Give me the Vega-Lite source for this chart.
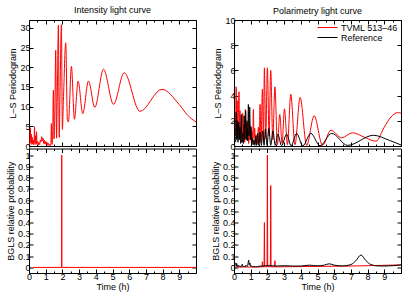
{
"$schema":"https://vega.github.io/schema/vega-lite/v6.json",
"padding":{"left":5,"top":5,"right":5,"bottom":1},
"datasets":{
"il":[{"t":0.05,"v":0.3},{"t":0.08,"v":4.6},{"t":0.11,"v":0.8},{"t":0.14,"v":3.0},{"t":0.17,"v":0.4},{"t":0.2,"v":2.2},{"t":0.23,"v":0.5},{"t":0.27,"v":1.5},{"t":0.3,"v":0.3},{"t":0.33,"v":4.9},{"t":0.36,"v":0.8},{"t":0.39,"v":2.6},{"t":0.42,"v":0.4},{"t":0.45,"v":3.6},{"t":0.48,"v":0.6},{"t":0.52,"v":1.2},{"t":0.56,"v":0.2},{"t":0.6,"v":0.9},{"t":0.64,"v":0.4},{"t":0.68,"v":1.5},{"t":0.72,"v":1.0},{"t":0.76,"v":2.4},{"t":0.8,"v":1.3},{"t":0.84,"v":2.0},{"t":0.88,"v":0.6},{"t":0.92,"v":1.5},{"t":0.96,"v":0.5},{"t":1.0,"v":1.2},{"t":1.04,"v":0.3},{"t":1.08,"v":0.9},{"t":1.12,"v":0.2},{"t":1.16,"v":0.7},{"t":1.2,"v":0.1},{"t":1.24,"v":0.4},{"t":1.28,"v":0.1},{"t":1.31,"v":0.6},{"t":1.34,"v":5.7},{"t":1.38,"v":0.4},{"t":1.42,"v":3.5},{"t":1.46,"v":14.2},{"t":1.5,"v":1.8},{"t":1.54,"v":6.5},{"t":1.6,"v":24.3},{"t":1.65,"v":2.0},{"t":1.69,"v":11.0},{"t":1.76,"v":30.7},{"t":1.81,"v":2.2},{"t":1.86,"v":14.0},{"t":1.94,"v":30.8},{"t":2.0,"v":4.2},{"t":2.06,"v":11.5},{"t":2.2,"v":26.2},{"t":2.3,"v":6.5},{"t":2.36,"v":6.1},{"t":2.54,"v":20.2},{"t":2.72,"v":6.8},{"t":2.94,"v":16.5},{"t":3.22,"v":8.2},{"t":3.56,"v":16.5},{"t":3.94,"v":9.8},{"t":4.46,"v":19.5},{"t":5.06,"v":10.6},{"t":5.7,"v":18.6},{"t":6.64,"v":8.8},{"t":7.96,"v":14.4},{"t":9.0,"v":10.5},{"t":9.5,"v":7.8},{"t":10,"v":6.1}],
"pl":[
{"s":"TVML 513–46","t":0.1,"v":0.8},{"s":"TVML 513–46","t":0.13,"v":4.7},{"s":"TVML 513–46","t":0.16,"v":1.2},{"s":"TVML 513–46","t":0.19,"v":3.6},{"s":"TVML 513–46","t":0.22,"v":0.6},{"s":"TVML 513–46","t":0.26,"v":2.4},{"s":"TVML 513–46","t":0.3,"v":4.3},{"s":"TVML 513–46","t":0.33,"v":0.8},{"s":"TVML 513–46","t":0.36,"v":2.8},{"s":"TVML 513–46","t":0.4,"v":0.4},{"s":"TVML 513–46","t":0.44,"v":2.0},{"s":"TVML 513–46","t":0.48,"v":0.3},{"s":"TVML 513–46","t":0.52,"v":2.6},{"s":"TVML 513–46","t":0.56,"v":0.7},{"s":"TVML 513–46","t":0.6,"v":1.6},{"s":"TVML 513–46","t":0.64,"v":0.3},{"s":"TVML 513–46","t":0.68,"v":2.9},{"s":"TVML 513–46","t":0.72,"v":0.6},{"s":"TVML 513–46","t":0.76,"v":1.8},{"s":"TVML 513–46","t":0.8,"v":0.4},{"s":"TVML 513–46","t":0.84,"v":1.3},{"s":"TVML 513–46","t":0.88,"v":0.2},{"s":"TVML 513–46","t":0.92,"v":2.0},{"s":"TVML 513–46","t":0.96,"v":0.5},{"s":"TVML 513–46","t":1.0,"v":1.6},{"s":"TVML 513–46","t":1.04,"v":0.3},{"s":"TVML 513–46","t":1.08,"v":1.2},{"s":"TVML 513–46","t":1.12,"v":0.3},{"s":"TVML 513–46","t":1.16,"v":2.9},{"s":"TVML 513–46","t":1.2,"v":0.6},{"s":"TVML 513–46","t":1.24,"v":1.4},{"s":"TVML 513–46","t":1.28,"v":0.2},{"s":"TVML 513–46","t":1.32,"v":0.9},{"s":"TVML 513–46","t":1.36,"v":0.2},{"s":"TVML 513–46","t":1.4,"v":0.2},{"s":"TVML 513–46","t":1.46,"v":1.5},{"s":"TVML 513–46","t":1.51,"v":0.2},{"s":"TVML 513–46","t":1.56,"v":3.3},{"s":"TVML 513–46","t":1.62,"v":0.3},{"s":"TVML 513–46","t":1.7,"v":4.5},{"s":"TVML 513–46","t":1.76,"v":0.4},{"s":"TVML 513–46","t":1.82,"v":6.2},{"s":"TVML 513–46","t":1.9,"v":0.6},{"s":"TVML 513–46","t":2.0,"v":6.2},{"s":"TVML 513–46","t":2.1,"v":0.8},{"s":"TVML 513–46","t":2.2,"v":6.0},{"s":"TVML 513–46","t":2.32,"v":0.5},{"s":"TVML 513–46","t":2.45,"v":4.7},{"s":"TVML 513–46","t":2.6,"v":0.1},{"s":"TVML 513–46","t":2.74,"v":2.5},{"s":"TVML 513–46","t":2.88,"v":0.2},{"s":"TVML 513–46","t":3.02,"v":2.95},{"s":"TVML 513–46","t":3.2,"v":0.1},{"s":"TVML 513–46","t":3.4,"v":4.1},{"s":"TVML 513–46","t":3.65,"v":0.1},{"s":"TVML 513–46","t":3.96,"v":3.85},{"s":"TVML 513–46","t":4.35,"v":0.05},{"s":"TVML 513–46","t":4.8,"v":2.4},{"s":"TVML 513–46","t":5.3,"v":0.05},{"s":"TVML 513–46","t":5.8,"v":1.25},{"s":"TVML 513–46","t":6.45,"v":0.65},{"s":"TVML 513–46","t":7.1,"v":1.05},{"s":"TVML 513–46","t":7.8,"v":0.7},{"s":"TVML 513–46","t":8.5,"v":0.38},{"s":"TVML 513–46","t":9.0,"v":1.5},{"s":"TVML 513–46","t":9.4,"v":2.3},{"s":"TVML 513–46","t":9.8,"v":2.65},{"s":"TVML 513–46","t":10,"v":2.6},
{"s":"Reference","t":0.1,"v":0.3},{"s":"Reference","t":0.13,"v":2.7},{"s":"Reference","t":0.16,"v":0.5},{"s":"Reference","t":0.2,"v":2.0},{"s":"Reference","t":0.24,"v":0.3},{"s":"Reference","t":0.28,"v":1.9},{"s":"Reference","t":0.32,"v":0.5},{"s":"Reference","t":0.36,"v":1.5},{"s":"Reference","t":0.4,"v":0.2},{"s":"Reference","t":0.44,"v":2.5},{"s":"Reference","t":0.48,"v":0.3},{"s":"Reference","t":0.52,"v":1.0},{"s":"Reference","t":0.56,"v":0.2},{"s":"Reference","t":0.61,"v":2.4},{"s":"Reference","t":0.65,"v":0.5},{"s":"Reference","t":0.7,"v":2.8},{"s":"Reference","t":0.74,"v":0.5},{"s":"Reference","t":0.78,"v":2.0},{"s":"Reference","t":0.82,"v":0.4},{"s":"Reference","t":0.86,"v":3.3},{"s":"Reference","t":0.9,"v":0.8},{"s":"Reference","t":0.94,"v":3.1},{"s":"Reference","t":0.98,"v":0.5},{"s":"Reference","t":1.02,"v":1.5},{"s":"Reference","t":1.06,"v":0.1},{"s":"Reference","t":1.1,"v":0.6},{"s":"Reference","t":1.15,"v":0.1},{"s":"Reference","t":1.2,"v":0.5},{"s":"Reference","t":1.25,"v":0.05},{"s":"Reference","t":1.31,"v":0.8},{"s":"Reference","t":1.36,"v":0.05},{"s":"Reference","t":1.42,"v":1.0},{"s":"Reference","t":1.49,"v":0.05},{"s":"Reference","t":1.56,"v":1.1},{"s":"Reference","t":1.64,"v":0.05},{"s":"Reference","t":1.72,"v":1.2},{"s":"Reference","t":1.8,"v":0.05},{"s":"Reference","t":1.88,"v":1.35},{"s":"Reference","t":1.98,"v":0.05},{"s":"Reference","t":2.08,"v":1.4},{"s":"Reference","t":2.2,"v":0.05},{"s":"Reference","t":2.33,"v":1.2},{"s":"Reference","t":2.47,"v":0.05},{"s":"Reference","t":2.62,"v":0.95},{"s":"Reference","t":2.85,"v":0.02},{"s":"Reference","t":3.15,"v":0.95},{"s":"Reference","t":3.42,"v":0.02},{"s":"Reference","t":3.75,"v":1.0},{"s":"Reference","t":4.12,"v":0.02},{"s":"Reference","t":4.6,"v":1.0},{"s":"Reference","t":5.15,"v":0.02},{"s":"Reference","t":5.85,"v":1.0},{"s":"Reference","t":6.8,"v":0.05},{"s":"Reference","t":8.35,"v":0.85},{"s":"Reference","t":9.3,"v":0.45},{"s":"Reference","t":10,"v":0.08}],
"ib":[{"t":0.24,"v":0},{"t":1.955,"v":0},{"t":1.96,"v":1.0},{"t":1.965,"v":0},{"t":10,"v":0}],
"pbr":[{"t":0.1,"v":0.003},{"t":1.0,"v":0.003},{"t":1.6,"v":0.004},{"t":1.68,"v":0.005},{"t":1.7,"v":0.05},{"t":1.72,"v":0.005},{"t":1.8,"v":0.005},{"t":1.82,"v":0.4},{"t":1.84,"v":0.005},{"t":1.98,"v":0.005},{"t":2.0,"v":1.0},{"t":2.02,"v":0.005},{"t":2.18,"v":0.005},{"t":2.2,"v":0.73},{"t":2.22,"v":0.005},{"t":2.43,"v":0.005},{"t":2.45,"v":0.06},{"t":2.47,"v":0.005},{"t":4,"v":0.007},{"t":7,"v":0.012},{"t":10,"v":0.022}],
"pbk":[{"t":0.1,"v":0.04},{"t":0.13,"v":0.01},{"t":0.16,"v":0.035},{"t":0.2,"v":0.008},{"t":0.25,"v":0.02},{"t":0.3,"v":0.005},{"t":0.35,"v":0.015},{"t":0.4,"v":0.004},{"t":0.45,"v":0.01},{"t":0.5,"v":0.03},{"t":0.54,"v":0.004},{"t":0.6,"v":0.012},{"t":0.66,"v":0.004},{"t":0.72,"v":0.02},{"t":0.78,"v":0.008},{"t":0.84,"v":0.035},{"t":0.88,"v":0.065},{"t":0.91,"v":0.02},{"t":0.95,"v":0.04},{"t":1.0,"v":0.008},{"t":1.05,"v":0.015},{"t":1.1,"v":0.004},{"t":1.2,"v":0.008},{"t":1.3,"v":0.005},{"t":1.5,"v":0.01},{"t":1.7,"v":0.012},{"t":1.9,"v":0.015},{"t":2.1,"v":0.015},{"t":2.5,"v":0.012},{"t":3.0,"v":0.015},{"t":3.5,"v":0.012},{"t":4.0,"v":0.012},{"t":4.5,"v":0.02},{"t":5.0,"v":0.014},{"t":5.4,"v":0.02},{"t":5.7,"v":0.032},{"t":6.0,"v":0.02},{"t":6.5,"v":0.013},{"t":7.0,"v":0.025},{"t":7.3,"v":0.06},{"t":7.6,"v":0.11},{"t":7.9,"v":0.06},{"t":8.2,"v":0.025},{"t":8.6,"v":0.013},{"t":9.0,"v":0.012},{"t":9.5,"v":0.015},{"t":10,"v":0.022}]
},
"columns":2,
"spacing":{"row":2.5,"column":38},
"bounds":"flush",
"resolve":{"legend":{"color":"independent"}},
"concat":[
{"width":167,"height":126,"title":{"text":"Intensity light curve","offset":5},"data":{"name":"il"},
 "resolve":{"axis":{"x":"independent","y":"independent"}},
 "layer":[
  {"mark":{"type":"line","color":"#ff0000","strokeWidth":1,"interpolate":"monotone","clip":true},
   "encoding":{"x":{"field":"t","type":"quantitative","scale":{"domain":[0,10],"nice":false,"zero":false},"axis":{"orient":"bottom","values":[0,1,2,3,4,5,6,7,8,9,10],"labels":false,"title":null}},
   "y":{"field":"v","type":"quantitative","scale":{"domain":[0,32],"nice":false,"zero":false},"axis":{"orient":"left","values":[0,5,10,15,20,25,30],"format":"~r","title":"L–S Periodogram"}}}},
  {"mark":{"type":"line","opacity":0},
   "encoding":{"x":{"field":"t","type":"quantitative","axis":{"orient":"top","values":[0,1,2,3,4,5,6,7,8,9,10],"labels":false,"title":null}},
   "y":{"field":"v","type":"quantitative","axis":{"orient":"right","values":[0,5,10,15,20,25,30],"labels":false,"title":null}}}},
  {"mark":{"type":"line","opacity":0},
   "encoding":{"x":{"field":"t","type":"quantitative","axis":{"orient":"bottom","values":[0.5,1.5,2.5,3.5,4.5,5.5,6.5,7.5,8.5,9.5],"labels":false,"tickSize":-2,"title":null}},
   "y":{"field":"v","type":"quantitative","axis":null}}},
  {"mark":{"type":"line","opacity":0},
   "encoding":{"x":{"field":"t","type":"quantitative","axis":{"orient":"top","values":[0.5,1.5,2.5,3.5,4.5,5.5,6.5,7.5,8.5,9.5],"labels":false,"tickSize":-2,"title":null}},
   "y":{"field":"v","type":"quantitative","axis":null}}}
 ]},
{"width":167,"height":126,"title":{"text":"Polarimetry light curve","offset":0.5},"data":{"name":"pl"},
 "resolve":{"axis":{"x":"independent","y":"independent"}},
 "layer":[
  {"mark":{"type":"line","strokeWidth":1,"interpolate":"monotone","clip":true},
   "encoding":{"x":{"field":"t","type":"quantitative","scale":{"domain":[0,10],"nice":false,"zero":false},"axis":{"orient":"bottom","values":[0,1,2,3,4,5,6,7,8,9,10],"labels":false,"title":null}},
   "y":{"field":"v","type":"quantitative","scale":{"domain":[0,10],"nice":false,"zero":false},"axis":{"orient":"left","values":[0,2,4,6,8,10],"format":"~r","title":"L–S Periodogram"}},
   "color":{"field":"s","type":"nominal","scale":{"domain":["TVML 513–46","Reference"],"range":["#ff0000","#000000"]},
     "legend":{"title":null,"orient":"top-right","offset":3,"padding":0,"symbolType":"M-2.5,0H2.5","symbolSize":64,"symbolStrokeWidth":1,"labelFontSize":9,"labelOffset":9,"rowPadding":0,"labelColor":"#000"}}}},
  {"mark":{"type":"line","opacity":0},
   "encoding":{"x":{"field":"t","type":"quantitative","axis":{"orient":"top","values":[0,1,2,3,4,5,6,7,8,9,10],"labels":false,"title":null}},
   "y":{"field":"v","type":"quantitative","axis":{"orient":"right","values":[0,2,4,6,8,10],"labels":false,"title":null}}}},
  {"mark":{"type":"line","opacity":0},
   "encoding":{"x":{"field":"t","type":"quantitative","axis":{"orient":"bottom","values":[0.5,1.5,2.5,3.5,4.5,5.5,6.5,7.5,8.5,9.5],"labels":false,"tickSize":-2,"title":null}},
   "y":{"field":"v","type":"quantitative","axis":null}}},
  {"mark":{"type":"line","opacity":0},
   "encoding":{"x":{"field":"t","type":"quantitative","axis":{"orient":"top","values":[0.5,1.5,2.5,3.5,4.5,5.5,6.5,7.5,8.5,9.5],"labels":false,"tickSize":-2,"title":null}},
   "y":{"field":"v","type":"quantitative","axis":null}}}
 ]},
{"width":167,"height":124.5,"data":{"name":"ib"},
 "resolve":{"axis":{"x":"independent","y":"independent"}},
 "layer":[
  {"mark":{"type":"line","color":"#ff0000","strokeWidth":1,"clip":true},
   "encoding":{"x":{"field":"t","type":"quantitative","scale":{"domain":[0,10],"nice":false,"zero":false},"axis":{"orient":"bottom","values":[0,1,2,3,4,5,6,7,8,9,10],"labelExpr":"datum.value < 10 ? datum.label : ''","title":"Time (h)"}},
   "y":{"field":"v","type":"quantitative","scale":{"domain":[-0.05,1.06],"nice":false,"zero":false},"axis":{"orient":"left","values":[0,0.1,0.2,0.3,0.4,0.5,0.6,0.7,0.8,0.9,1],"format":"~r","title":"BGLS relative probability"}}}},
  {"mark":{"type":"line","opacity":0},
   "encoding":{"x":{"field":"t","type":"quantitative","axis":{"orient":"top","values":[0,1,2,3,4,5,6,7,8,9,10],"labels":false,"title":null}},
   "y":{"field":"v","type":"quantitative","axis":{"orient":"right","values":[0,0.1,0.2,0.3,0.4,0.5,0.6,0.7,0.8,0.9,1],"labels":false,"title":null}}}},
  {"mark":{"type":"line","opacity":0},
   "encoding":{"x":{"field":"t","type":"quantitative","axis":{"orient":"bottom","values":[0.5,1.5,2.5,3.5,4.5,5.5,6.5,7.5,8.5,9.5],"labels":false,"tickSize":-2,"title":null}},
   "y":{"field":"v","type":"quantitative","axis":null}}},
  {"mark":{"type":"line","opacity":0},
   "encoding":{"x":{"field":"t","type":"quantitative","axis":{"orient":"top","values":[0.5,1.5,2.5,3.5,4.5,5.5,6.5,7.5,8.5,9.5],"labels":false,"tickSize":-2,"title":null}},
   "y":{"field":"v","type":"quantitative","axis":null}}}
 ]},
{"width":167,"height":124.5,
 "resolve":{"axis":{"x":"independent","y":"independent"}},
 "layer":[
  {"data":{"name":"pbr"},"mark":{"type":"line","color":"#ff0000","strokeWidth":1,"clip":true},
   "encoding":{"x":{"field":"t","type":"quantitative","scale":{"domain":[0,10],"nice":false,"zero":false},"axis":{"orient":"bottom","values":[0,1,2,3,4,5,6,7,8,9,10],"labelExpr":"datum.value < 10 ? datum.label : ''","title":"Time (h)"}},
   "y":{"field":"v","type":"quantitative","scale":{"domain":[-0.05,1.06],"nice":false,"zero":false},"axis":{"orient":"left","values":[0,0.1,0.2,0.3,0.4,0.5,0.6,0.7,0.8,0.9,1],"format":"~r","title":"BGLS relative probability"}}}},
  {"data":{"name":"pbk"},"mark":{"type":"line","color":"#000000","strokeWidth":1,"interpolate":"monotone","clip":true},
   "encoding":{"x":{"field":"t","type":"quantitative","axis":{"orient":"top","values":[0,1,2,3,4,5,6,7,8,9,10],"labels":false,"title":null}},
   "y":{"field":"v","type":"quantitative","axis":{"orient":"right","values":[0,0.1,0.2,0.3,0.4,0.5,0.6,0.7,0.8,0.9,1],"labels":false,"title":null}}}},
  {"data":{"name":"pbk"},"mark":{"type":"line","opacity":0},
   "encoding":{"x":{"field":"t","type":"quantitative","axis":{"orient":"bottom","values":[0.5,1.5,2.5,3.5,4.5,5.5,6.5,7.5,8.5,9.5],"labels":false,"tickSize":-2,"title":null}},
   "y":{"field":"v","type":"quantitative","axis":null}}},
  {"data":{"name":"pbk"},"mark":{"type":"line","opacity":0},
   "encoding":{"x":{"field":"t","type":"quantitative","axis":{"orient":"top","values":[0.5,1.5,2.5,3.5,4.5,5.5,6.5,7.5,8.5,9.5],"labels":false,"tickSize":-2,"title":null}},
   "y":{"field":"v","type":"quantitative","axis":null}}}
 ]}
],
"config":{
 "font":"Liberation Sans",
 "background":"#ffffff",
 "view":{"stroke":"#000000","strokeWidth":1},
 "axis":{"grid":false,"domain":false,"ticks":true,"tickColor":"#000000","tickWidth":1,"tickSize":-4,"labelColor":"#000000","labelFontSize":9,"labelFont":"Liberation Sans","titleFont":"Liberation Sans","titleFontSize":9,"titleFontWeight":"normal","titleColor":"#000000","labelFlush":false,"labelOverlap":false},
 "axisX":{"labelPadding":3,"titlePadding":1},
 "axisY":{"labelPadding":3,"titlePadding":2},
 "title":{"fontSize":9,"fontWeight":"normal","color":"#000000","font":"Liberation Sans"},
 "legend":{"labelFont":"Liberation Sans"}
}
}
